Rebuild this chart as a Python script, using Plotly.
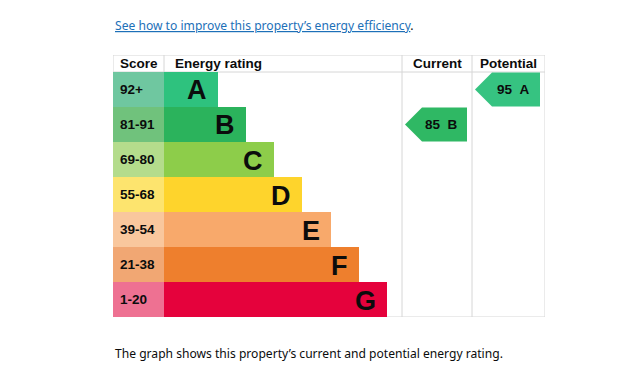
import plotly.graph_objects as go

# ---------------- data ----------------
bands = ["A", "B", "C", "D", "E", "F", "G"]
score_labels = ["92+", "81-91", "69-80", "55-68", "39-54", "21-38", "1-20"]
band_min_scores = [92, 81, 69, 55, 39, 21, 1]
band_rank = [1, 2, 3, 4, 5, 6, 7]          # bar length grows with band
current_score = 85
potential_score = 95
column_headers = ["Score", "Energy rating", "Current", "Potential"]
link_text = "See how to improve this property\u2019s energy efficiency"
caption_text = "The graph shows this property\u2019s current and potential energy rating."

# ---------------- styles ----------------
bar_colors = ["#2ec27e", "#2bb35c", "#8dcd4a", "#fed42c", "#f8a96b", "#ee7f2d", "#e5023c"]
score_colors = ["#6fc7a0", "#70c27c", "#b4dc8c", "#fde46e", "#f9c79d", "#f1a773", "#ee7192"]
grid_color = "#d6d6d6"
text_color = "#0b0c0c"
font_bold = "Liberation Sans"

W, H = 621, 375
OFF = 8   # page body margin of the html page
TABLE_L, TABLE_R, TABLE_T = 113 - OFF, 545 - OFF, 55 - OFF
HEADER_H, ROW_H = 17, 35
SCORE_W = 51
BAR_MIN, BAR_STEP = 26, 28.1
CUR_L, POT_L = 402 - OFF, 472 - OFF

xr = TABLE_R - TABLE_L
table_b = TABLE_T + HEADER_H + ROW_H * len(bands)
y_top = -0.5 - HEADER_H / ROW_H
y_bot = len(bands) - 0.5


def px(x):
    return x - TABLE_L


def band_index(score):
    for i, m in enumerate(band_min_scores):
        if score >= m:
            return i
    return len(bands) - 1


fig = go.Figure()

# score cells
fig.add_trace(go.Bar(
    y=list(range(len(bands))), x=[SCORE_W] * len(bands), base=0,
    orientation="h", width=1, marker=dict(color=score_colors, line=dict(width=0)),
    hoverinfo="skip", showlegend=False))

# rating bars
bar_len = [BAR_MIN + BAR_STEP * r for r in band_rank]
fig.add_trace(go.Bar(
    y=list(range(len(bands))), x=bar_len, base=SCORE_W,
    orientation="h", width=1, marker=dict(color=bar_colors, line=dict(width=0)),
    hoverinfo="skip", showlegend=False))

annotations = []
for i, (b, s) in enumerate(zip(bands, score_labels)):
    annotations.append(dict(x=5, y=i, xref="x", yref="y", text="<b>%s</b>" % s,
                            showarrow=False, xanchor="left", yanchor="middle",
                            font=dict(family=font_bold, size=13.5, color=text_color)))
    annotations.append(dict(x=SCORE_W + bar_len[i], y=i, xref="x", yref="y",
                            text="<b>%s</b>" % b, xshift=-9, yshift=-1,
                            showarrow=False, xanchor="right", yanchor="middle",
                            font=dict(family=font_bold, size=27, color=text_color)))


def add_arrow(score, col_l, col_r, color):
    i = band_index(score)
    y0, y1 = i - 0.5 + 0.5 / ROW_H, i + 0.5 - 0.5 / ROW_H
    tip = px(col_l) + 3
    sh = tip + 17
    right = px(col_r) - 5
    fig.add_trace(go.Scatter(
        x=[tip, sh, right, right, sh, tip], y=[i, y0, y0, y1, y1, i],
        mode="lines", fill="toself", fillcolor=color, line=dict(width=0, color=color),
        hoverinfo="skip", showlegend=False))
    annotations.append(dict(x=(sh + right) / 2 - 3, y=i, xref="x", yref="y",
                            text="<b>%d\u00a0\u00a0%s</b>" % (score, bands[i]),
                            showarrow=False, xanchor="center", yanchor="middle",
                            font=dict(family=font_bold, size=13.5, color=text_color)))


add_arrow(current_score, CUR_L, POT_L, "#2fb864")
add_arrow(potential_score, POT_L, TABLE_R, "#36c381")

# headers
yh = -0.5 - HEADER_H / ROW_H / 2
hdr_pos = [(5, "left"), (60, "left"),
           (px((CUR_L + POT_L) / 2), "center"), (px((POT_L + TABLE_R) / 2), "center")]
for (x, anc), t in zip(hdr_pos, column_headers):
    annotations.append(dict(x=x, y=yh, xref="x", yref="y", text="<b>%s</b>" % t,
                            showarrow=False, xanchor=anc, yanchor="middle",
                            font=dict(family=font_bold, size=13.5, color=text_color)))

# grid lines
shapes = []
line = dict(color=grid_color, width=1)
for yv in [y_top, -0.5, y_bot]:
    shapes.append(dict(type="line", xref="x", yref="y", x0=0, x1=xr, y0=yv, y1=yv,
                       line=line, layer="below"))
for xv in [0, px(CUR_L), px(POT_L), xr]:
    shapes.append(dict(type="line", xref="x", yref="y", x0=xv, x1=xv, y0=y_top, y1=y_bot,
                       line=line, layer="below"))
shapes.append(dict(type="line", xref="x", yref="y", x0=SCORE_W, x1=SCORE_W, y0=y_top,
                   y1=-0.5, line=line, layer="below"))

# page texts
annotations.append(dict(x=TABLE_L / W, y=1 - (25 - OFF) / H, xref="paper", yref="paper",
                        text="<span style='color:#1d70b8'><u>%s</u></span>." % link_text,
                        showarrow=False, xanchor="left", yanchor="middle",
                        font=dict(family="Noto Sans", size=12.1, color=text_color)))
annotations.append(dict(x=TABLE_L / W, y=1 - (353 - OFF) / H, xref="paper", yref="paper",
                        text=caption_text,
                        showarrow=False, xanchor="left", yanchor="middle",
                        font=dict(family="Noto Sans", size=12.1, color=text_color)))

fig.update_layout(
    width=W, height=H, margin=dict(l=0, r=0, t=0, b=0),
    paper_bgcolor="white", plot_bgcolor="white",
    xaxis=dict(domain=[TABLE_L / W, TABLE_R / W], range=[0, xr], visible=False,
               fixedrange=True),
    yaxis=dict(domain=[1 - table_b / H, 1 - TABLE_T / H], range=[y_bot, y_top],
               visible=False, fixedrange=True),
    barmode="overlay", bargap=0, annotations=annotations, shapes=shapes,
)

fig.write_html("out.html")
